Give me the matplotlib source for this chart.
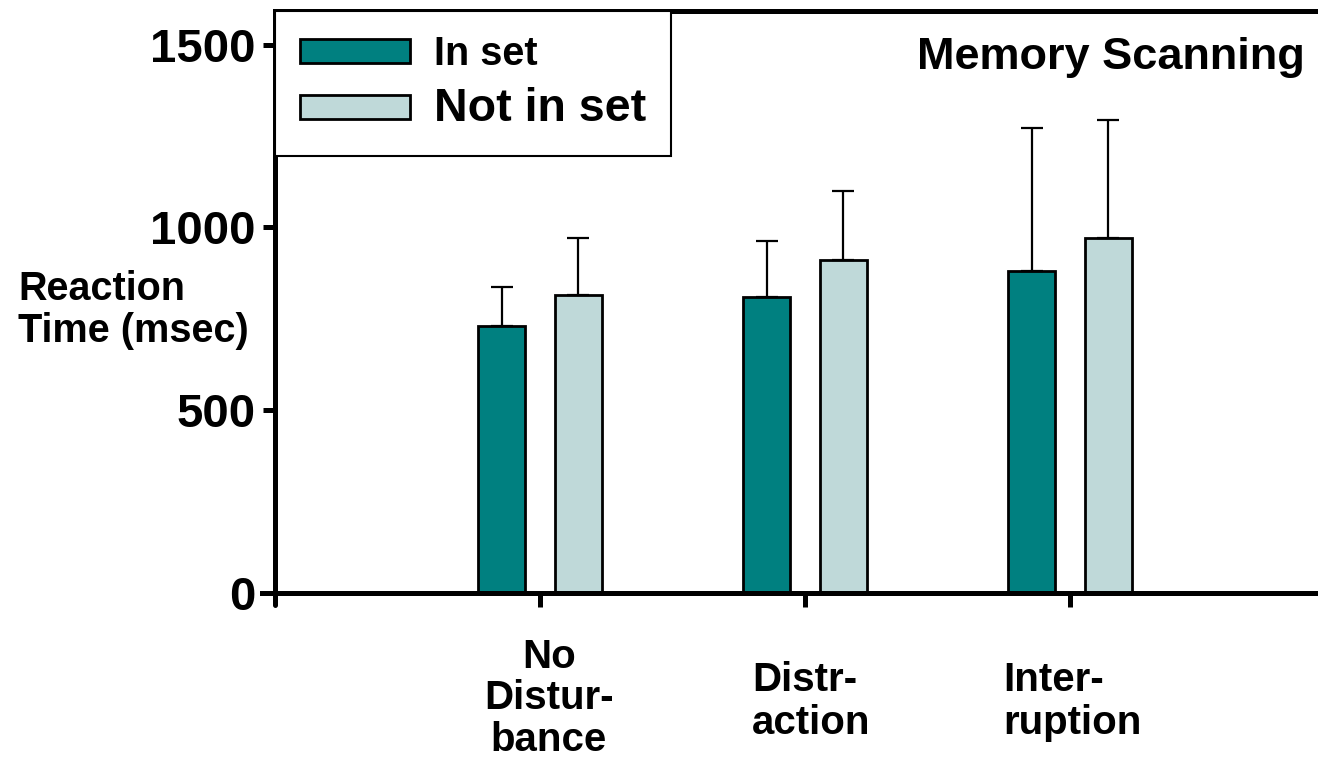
import matplotlib
matplotlib.use("Agg")
import matplotlib.pyplot as plt
import numpy as np

categories = ["No\nDistur-\nbance", "Distr-\naction", "Inter-\nruption"]
series_names = ["In set", "Not in set"]
in_set = [729, 809, 882]
not_in_set = [816, 912, 970]
in_set_err = [109, 155, 389]
not_in_set_err = [154, 189, 323]
yticks = [0, 500, 1000, 1500]

plt.rcParams['font.family'] = ['Liberation Sans', 'DejaVu Sans']
plt.rcParams['font.weight'] = 'bold'

fig = plt.figure(figsize=(13.18, 7.63), dpi=100)
W, H = 1318, 763
ax = fig.add_axes([275 / W, (H - 605) / H, (1330 - 275) / W, (605 - 10.5) / H])

x = np.arange(1, len(categories) + 1)
bw = 0.18
off = 0.145
dark = "#008080"
light = "#BFD9D9"
ekw = dict(elinewidth=1.6, capthick=1.6, ecolor="black")
b1 = ax.bar(x - off, in_set, bw, color=dark, edgecolor="black", linewidth=2,
            yerr=[np.zeros(3), in_set_err], capsize=8, error_kw=ekw, label=series_names[0], zorder=2)
b2 = ax.bar(x + off, not_in_set, bw, color=light, edgecolor="black", linewidth=2,
            yerr=[np.zeros(3), not_in_set_err], capsize=8, error_kw=ekw, label=series_names[1], zorder=2)

ax.set_xlim(0, (1330 - 275) / 265)
ax.set_ylim(-34, 1594)
ax.spines['right'].set_visible(False)
ax.spines['bottom'].set_position(('data', 0))
ax.spines['bottom'].set_bounds(-0.05, ax.get_xlim()[1])
for s in ['left', 'top', 'bottom']:
    ax.spines[s].set_linewidth(3.6)
ax.spines['left'].set_capstyle('round')

ax.set_yticks(yticks)
ax.set_yticklabels([str(v) for v in yticks], fontsize=34, fontweight='bold')
ax.tick_params(axis='y', length=9, width=3.6, pad=5)
ax.set_xticks(x)
ax.set_xticklabels([])
ax.tick_params(axis='x', length=10, width=3.6, direction='out')

# category labels
tr = ax.get_xaxis_transform()
ax.text((549 - 275) / 265, -0.055, categories[0], transform=tr, ha='center', va='top',
        fontsize=29, fontweight='bold', linespacing=1.12)
ax.text((752 - 275) / 265, -0.095, categories[1], transform=tr, ha='left', va='top',
        fontsize=29, fontweight='bold', linespacing=1.15)
ax.text((1003 - 275) / 265, -0.095, categories[2], transform=tr, ha='left', va='top',
        fontsize=29, fontweight='bold', linespacing=1.15)

fig.text(18 / W, 1 - 270 / H, "Reaction\nTime (msec)", ha='left', va='top',
         fontsize=28.5, fontweight='bold', linespacing=1.12)

ax.text((1305 - 275) / 265, 1 - (57 - 10.5) / (605 - 10.5), "Memory Scanning", transform=tr,
        ha='right', va='center', fontsize=32.5, fontweight='bold')

leg = ax.legend(handles=[b1, b2], loc='upper left', bbox_to_anchor=(0.0, 1.0),
                borderaxespad=0, fancybox=False, edgecolor='black', framealpha=1,
                prop={'size': 28.5, 'weight': 'bold'}, handlelength=2.8, handleheight=0.55,
                handletextpad=0.6, borderpad=0.62, labelspacing=0.36)
leg.get_frame().set_linewidth(1.5)
leg.get_texts()[1].set_fontsize(33.5)

fig.savefig("out.png", dpi=100)
